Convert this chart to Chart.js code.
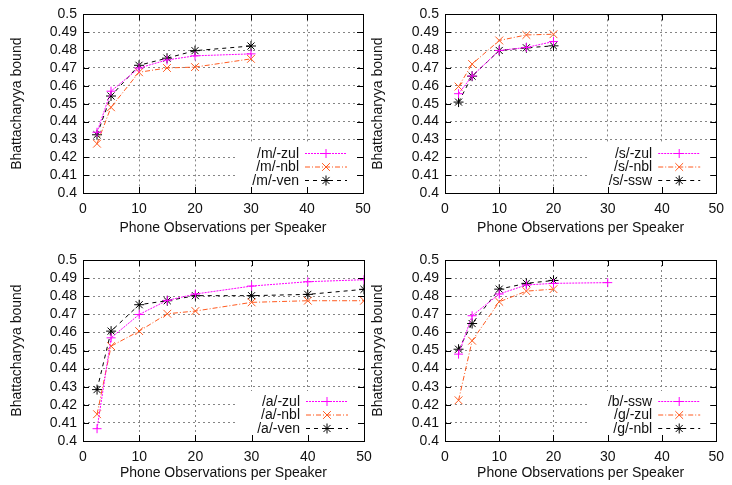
<!DOCTYPE html>
<html>
<head>
<meta charset="utf-8">
<script src="https://cdn.jsdelivr.net/npm/chart.js@4/dist/chart.umd.min.js"></script>
<style>
  html, body { margin: 0; padding: 0; background: #fff; }
  #wrap { position: relative; width: 732px; height: 485px; overflow: hidden; }
  #wrap canvas { position: absolute; }
</style>
</head>
<body>
<div id="wrap">
  <canvas id="c1"></canvas>
  <canvas id="c2"></canvas>
  <canvas id="c3"></canvas>
  <canvas id="c4"></canvas>
</div>
<script>
// phone observations per speaker (x)
const obs6 = [2.5, 5, 10, 15, 20, 30];
const obs5 = [2.5, 5, 10, 15, 20];
const obs8 = [2.5, 5, 10, 15, 20, 30, 40, 50];

// Bhattacharyya bound values
const mZul = [0.434, 0.457, 0.470, 0.4745, 0.4768, 0.4779];
const mNbl = [0.4276, 0.448, 0.4676, 0.470, 0.4705, 0.4751];
const mVen = [0.4326, 0.4543, 0.4715, 0.4755, 0.4797, 0.4823];

const sZul = [0.4556, 0.4655, 0.4798, 0.4815, 0.4848];
const sNbl = [0.4596, 0.4722, 0.4854, 0.4885, 0.4889];
const sSsw = [0.4509, 0.4654, 0.4798, 0.4813, 0.4824];

const aZul = [0.4068, 0.457, 0.4699, 0.4777, 0.4812, 0.4856, 0.488, 0.4891];
const aNbl = [0.4148, 0.4524, 0.4607, 0.4703, 0.4718, 0.4766, 0.4775, 0.4775];
const aVen = [0.4284, 0.4607, 0.4753, 0.4775, 0.4803, 0.4803, 0.481, 0.4838];

const bSsw = [0.448, 0.4692, 0.4812, 0.4862, 0.4871, 0.4875];
const gZul = [0.4225, 0.4554, 0.4769, 0.4828, 0.4839];
const gNbl = [0.4507, 0.4649, 0.4839, 0.4871, 0.4887];

const xTicks = [0, 10, 20, 30, 40, 50];
const yTicks = [0.4, 0.41, 0.42, 0.43, 0.44, 0.45, 0.46, 0.47, 0.48, 0.49, 0.5];

const FONT = 'Liberation Sans, Arial, Helvetica, sans-serif';
const styles = [
  { color: '#ff00ff', dash: [2, 1], point: 'cross', r: 4.5 },
  { color: '#ff5a1f', dash: [5, 2, 1, 2], point: 'crossRot', r: 5.5 },
  { color: '#000000', dash: [4, 4], point: 'star', r: 5 }
];

function pts(xs, ys) {
  return xs.map((x, i) => ({ x: x, y: ys[i] }));
}

// border, inward tick marks and blanked key area (gnuplot style)
const frame = {
  id: 'frame',
  beforeDatasetsDraw(chart) {
    const { ctx, chartArea: a, scales } = chart;
    ctx.save();
    ctx.fillStyle = '#fff';
    ctx.fillRect(a.right - 127, a.bottom - 50, 127, 50);
    ctx.strokeStyle = '#000';
    ctx.lineWidth = 1;
    ctx.beginPath();
    yTicks.forEach(v => {
      const y = Math.round(scales.y.getPixelForValue(v)) + 0.5;
      ctx.moveTo(a.left, y); ctx.lineTo(a.left + 6, y);
      ctx.moveTo(a.right, y); ctx.lineTo(a.right - 6, y);
    });
    xTicks.forEach(v => {
      const x = Math.round(scales.x.getPixelForValue(v)) + 0.5;
      ctx.moveTo(x, a.bottom); ctx.lineTo(x, a.bottom - 6);
      ctx.moveTo(x, a.top); ctx.lineTo(x, a.top + 6);
    });
    ctx.stroke();
    ctx.strokeRect(Math.round(a.left) + 0.5, Math.round(a.top) + 0.5,
      Math.round(a.right - a.left), Math.round(a.bottom - a.top));
    ctx.restore();
  },
  afterDatasetsDraw(chart) {
    const { ctx, chartArea: a } = chart;
    ctx.save();
    ctx.font = '14px ' + FONT;
    ctx.textAlign = 'right';
    ctx.textBaseline = 'middle';
    chart.data.datasets.forEach((ds, i) => {
      const y = a.bottom - 40 + i * 13.5;
      ctx.fillStyle = '#111';
      ctx.fillText(ds.label, a.right - 64, y + 1);
      ctx.strokeStyle = ds.borderColor;
      ctx.lineWidth = 1;
      ctx.setLineDash(ds.borderDash);
      ctx.beginPath();
      ctx.moveTo(a.right - 58, y + 0.5);
      ctx.lineTo(a.right - 16, y + 0.5);
      ctx.stroke();
      ctx.setLineDash([]);
      Chart.helpers.drawPoint(ctx, { pointStyle: ds.pointStyle, radius: ds.pointRadius, rotation: 0, borderWidth: 1 }, a.right - 37, y + 0.5);
    });
    ctx.restore();
  }
};

function makeChart(id, g, series) {
  const cv = document.getElementById(id);
  cv.style.left = g.left + 'px';
  cv.style.top = g.top + 'px';
  cv.style.width = g.w + 'px';
  cv.style.height = g.h + 'px';
  cv.width = g.w;
  cv.height = g.h;
  const datasets = series.map((s, i) => ({
    label: s.label,
    data: pts(s.x, s.y),
    borderColor: styles[i].color,
    backgroundColor: styles[i].color,
    borderDash: styles[i].dash,
    borderWidth: 1,
    pointStyle: styles[i].point,
    pointRadius: styles[i].r,
    pointBorderWidth: 1,
    pointBorderColor: styles[i].color,
    fill: false,
    tension: 0
  }));
  return new Chart(cv, {
    type: 'line',
    data: { datasets },
    plugins: [frame],
    options: {
      responsive: false,
      animation: false,
      events: [],
      layout: {
        autoPadding: false,
        padding: { left: 0, right: g.w - g.right, top: g.top0, bottom: 0 }
      },
      plugins: { legend: { display: false }, tooltip: { enabled: false } },
      scales: {
        x: {
          type: 'linear', min: 0, max: 50,
          afterBuildTicks: s => { s.ticks = xTicks.map(v => ({ value: v })); },
          afterFit: s => { s.height = g.h - g.bottom; },
          ticks: { color: '#111', font: { family: FONT, size: 14 }, padding: 8, maxRotation: 0, autoSkip: false },
          grid: { color: '#858585', drawTicks: false },
          border: { display: false, dash: [2, 3] },
          title: { display: true, text: 'Phone Observations per Speaker', color: '#111',
                   font: { family: FONT, size: 14 }, padding: { top: 0, bottom: g.xtPad } }
        },
        y: {
          min: 0.4, max: 0.5,
          afterBuildTicks: s => { s.ticks = yTicks.map(v => ({ value: v })); },
          afterFit: s => { s.width = g.left0; },
          ticks: { color: '#111', font: { family: FONT, size: 14 }, padding: 6, autoSkip: false,
                   callback: v => String(Math.round(v * 100) / 100) },
          grid: { color: '#858585', drawTicks: false },
          border: { display: false, dash: [2, 3] },
          title: { display: true, text: 'Bhattacharyya bound', color: '#111',
                   font: { family: FONT, size: 14 }, padding: { top: g.ytPad, bottom: 0 } }
        }
      }
    }
  });
}

makeChart('c1', { left: 0, top: 0, w: 380, h: 242, left0: 83, right: 363, top0: 12, bottom: 193, xtPad: 5, ytPad: 9 }, [
  { label: '/m/-zul', x: obs6, y: mZul },
  { label: '/m/-nbl', x: obs6, y: mNbl },
  { label: '/m/-ven', x: obs6, y: mVen }
]);
makeChart('c2', { left: 366, top: 0, w: 366, h: 242, left0: 79, right: 359, top0: 13, bottom: 193, xtPad: 5, ytPad: 4 }, [
  { label: '/s/-zul', x: obs5, y: sZul },
  { label: '/s/-nbl', x: obs5, y: sNbl },
  { label: '/s/-ssw', x: obs5, y: sSsw }
]);
makeChart('c3', { left: 0, top: 242, w: 380, h: 243, left0: 83, right: 364, top0: 18, bottom: 199, xtPad: 3, ytPad: 9 }, [
  { label: '/a/-zul', x: obs8, y: aZul },
  { label: '/a/-nbl', x: obs8, y: aNbl },
  { label: '/a/-ven', x: obs8, y: aVen }
]);
makeChart('c4', { left: 366, top: 242, w: 366, h: 243, left0: 79, right: 359, top0: 18, bottom: 199, xtPad: 3, ytPad: 4 }, [
  { label: '/b/-ssw', x: obs6, y: bSsw },
  { label: '/g/-zul', x: obs5, y: gZul },
  { label: '/g/-nbl', x: obs5, y: gNbl }
]);
</script>
</body>
</html>
